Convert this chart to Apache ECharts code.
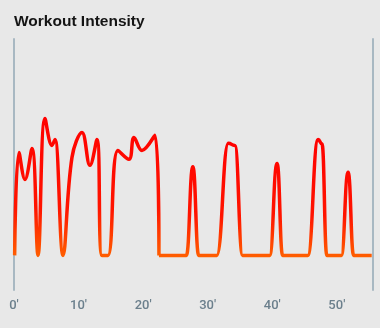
<!DOCTYPE html>
<html>
<head>
<meta charset="utf-8">
<script src="https://cdn.jsdelivr.net/npm/echarts@6/dist/echarts.min.js"></script>
<style>
  html, body { margin: 0; padding: 0; background: #e8e8e8; }
  #chart { width: 380px; height: 328px; }
</style>
</head>
<body>
<div id="chart"></div>
<script>
// Session timeline in minutes and the matching intensity readings
const minutes = [0.1, 0.77, 1.7, 2.79, 3.72, 4.8, 5.88, 6.35, 7.59, 8.98, 10.53, 11.76, 12.85, 13.62, 14.55,
  16.1, 17.8, 18.58, 19.81, 21.83, 22.45, 26.7, 27.7, 28.6,
  31.4, 33.2, 34.2, 35.4,
  39.6, 40.75, 41.6,
  45.5, 47.1, 47.7, 48.45,
  50.7, 51.75, 52.6, 55.4];
const intensity = [0, 47.6, 35.1, 49.4, 0, 63.3, 50.8, 53.6, 0, 45.3, 56.8, 41.6, 53.6, 0, 0,
  48.5, 44.4, 54.5, 48.5, 55.5, 0, 0, 41, 0,
  0, 51.8, 50.8, 0,
  0, 42.5, 0,
  0, 53.5, 51.6, 0,
  0, 38.4, 0, 0];
const xTicks = [0, 10, 20, 30, 40, 50];
// The continuous warm-up block ends at this minute; short intervals follow
const warmupEnd = 22.45;

const points = minutes.map((m, i) => [m, intensity[i]]);
const warmupPart = points.filter(p => p[0] <= warmupEnd);
const intervalPart = points.filter(p => p[0] >= warmupEnd);

const strokeStyle = () => ({
  width: 3.5,
  color: new echarts.graphic.LinearGradient(0, 0, 0, 1, [
    { offset: 0, color: '#ff0000' },
    { offset: 0.65, color: '#ff1400' },
    { offset: 1, color: '#ff6000' }
  ])
});

const chart = echarts.init(document.getElementById('chart'));
chart.setOption({
  backgroundColor: '#e8e8e8',
  animation: false,
  title: {
    text: 'Workout Intensity',
    left: 9,
    top: 9,
    textStyle: { fontFamily: 'Liberation Sans', fontWeight: 'bold', fontSize: 15.5, color: '#141414' }
  },
  grid: { left: 14, right: 7, top: 39, bottom: 38 },
  xAxis: {
    type: 'value',
    min: 0,
    max: 55.6,
    interval: 10,
    axisLine: { show: false },
    axisTick: { show: false },
    splitLine: { show: false },
    axisLabel: {
      margin: 9,
      color: '#6b7f8c',
      fontFamily: 'Roboto',
      fontWeight: 500,
      fontSize: 13,
      showMaxLabel: false,
      formatter: v => (xTicks.includes(v) ? v + "'" : '')
    }
  },
  yAxis: [
    {
      type: 'value', min: -16, max: 100, position: 'left',
      axisLine: { show: true, lineStyle: { color: '#a8b8c2', width: 2 } },
      axisTick: { show: false }, axisLabel: { show: false }, splitLine: { show: false }
    },
    {
      type: 'value', min: -16, max: 100, position: 'right',
      axisLine: { show: true, lineStyle: { color: '#a8b8c2', width: 2 } },
      axisTick: { show: false }, axisLabel: { show: false }, splitLine: { show: false }
    }
  ],
  series: [
    {
      type: 'line',
      data: warmupPart,
      smooth: 0.4,
      showSymbol: false,
      lineStyle: strokeStyle()
    },
    {
      type: 'line',
      data: intervalPart,
      smooth: 0.5,
      smoothMonotone: 'x',
      showSymbol: false,
      lineStyle: strokeStyle()
    }
  ]
});
</script>
</body>
</html>
